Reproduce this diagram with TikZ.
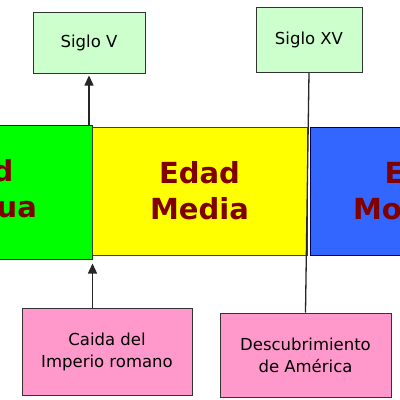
\documentclass[tikz,border=0pt]{standalone}
\usepackage{fontspec}
\setmainfont{DejaVu Sans}
\usetikzlibrary{arrows.meta}
\definecolor{darkred}{HTML}{800000}
\definecolor{lgreen}{HTML}{CCFFCC}
\definecolor{pinkbox}{HTML}{FF99CC}
\definecolor{bgreen}{HTML}{00FF00}
\definecolor{byellow}{HTML}{FFFF00}
\definecolor{bblue}{HTML}{3366FF}
\tikzset{
  era/.style={draw, line width=1pt, inner sep=0pt, align=center, text=darkred,
    font=\bfseries\fontsize{29}{36}\selectfont},
  datebox/.style={draw=black!80, line width=1pt, fill=lgreen, inner sep=0pt, align=center,
    font=\fontsize{16.5}{22}\selectfont},
  eventbox/.style={draw=black!80, line width=1pt, fill=pinkbox, inner sep=0pt, align=center,
    font=\fontsize{16.5}{22}\selectfont},
  conn/.style={line width=1.3pt, draw=black!85},
  arr/.style={conn, -{Triangle[length=10pt,width=9pt]}}
}
\begin{document}
\begin{tikzpicture}[x=1pt,y=-1pt]
\useasboundingbox (0,0) rectangle (400,400);
\clip (0,0) rectangle (400,400);
\node[era, fill=bgreen, draw=green!25!black, minimum width=238pt, minimum height=134pt] (ant) at (-27,192) {Edad\\Antigua};
\node[era, fill=byellow, draw=black!75, minimum width=215pt, minimum height=128pt] (med) at (199.5,191) {Edad\\Media};
\node[era, fill=bblue, draw=blue!30!black, minimum width=230pt, minimum height=128pt] (mod) at (425,191) {Edad\\Moderna};
\node[datebox, minimum width=112pt, minimum height=61pt] (sv) at (89,42.5) {Siglo V};
\node[datebox, minimum width=106pt, minimum height=65pt] (sxv) at (309,39.5) {Siglo XV};
\node[eventbox, minimum width=170pt, minimum height=87pt] (caida) at (107,351.5) {Caida del\\Imperio romano};
\node[eventbox, minimum width=171pt, minimum height=84pt] (desc) at (305.5,355) {Descubrimiento\\de América};
\draw[arr, shorten >=2pt] (sv.south |- ant.north) -- (sv.south);
\draw[arr, shorten >=4pt] (caida.north -| ant.south east) -- (ant.south east);
\draw[conn] (sxv.south) -- (desc.north);
\end{tikzpicture}
\end{document}
